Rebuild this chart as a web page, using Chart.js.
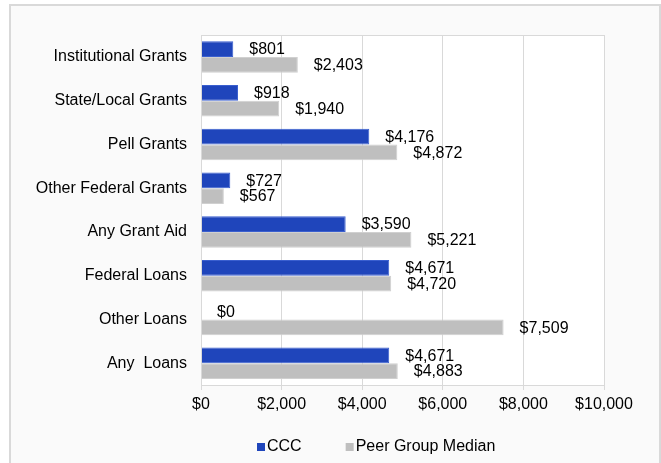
<!DOCTYPE html>
<html>
<head>
<meta charset="utf-8">
<script src="https://cdn.jsdelivr.net/npm/chart.js@4"></script>
<style>
  html, body { margin: 0; padding: 0; background: #ffffff; }
  #wrap { position: relative; width: 661px; height: 463px; overflow: hidden; }
</style>
</head>
<body>
<div id="wrap"><canvas id="myChart" width="661" height="463"></canvas></div>
<script>
const categories = ['Institutional Grants', 'State/Local Grants', 'Pell Grants', 'Other Federal Grants',
    'Any Grant Aid', 'Federal Loans', 'Other Loans', 'Any  Loans'];
const cccValues = [801, 918, 4176, 727, 3590, 4671, 0, 4671];
const peerValues = [2403, 1940, 4872, 567, 5221, 4720, 7509, 4883];
const xTicks = [0, 2000, 4000, 6000, 8000, 10000];

const FONT = '"Liberation Sans", Arial, sans-serif';

function money(v){
    return '$' + Number(v).toLocaleString('en-US');
}

// frame, plot background and border
const framePlugin = {
    id: 'frame',
    beforeDraw(chart){
        const c = chart.ctx;
        const a = chart.chartArea;
        c.save();
        c.fillStyle = '#ffffff';
        c.fillRect(0, 0, chart.width, chart.height);
        c.fillStyle = '#fafafa';
        c.fillRect(10, 5, 650, chart.height);
        c.strokeStyle = '#d9d9d9';
        c.lineWidth = 2;
        c.strokeRect(10, 5, 650, chart.height + 10);
        c.fillStyle = '#ffffff';
        c.fillRect(a.left, a.top, a.right - a.left, a.bottom - a.top);
        c.restore();
    },
    afterDraw(chart){
        const c = chart.ctx;
        const a = chart.chartArea;
        c.save();
        c.strokeStyle = '#d9d9d9';
        c.lineWidth = 1;
        c.strokeRect(a.left + 0.5, a.top + 0.5, a.right - a.left, a.bottom - a.top);

        // legend below the axis
        c.font = '16px ' + FONT;
        c.textBaseline = 'middle';
        c.textAlign = 'left';
        let x = 257;
        const y = 447;
        chart.data.datasets.forEach(ds => {
            c.fillStyle = ds.backgroundColor;
            c.fillRect(x, y - 4, 8, 8);
            c.fillStyle = '#000000';
            c.fillText(ds.label, x + 10, y);
            x += 10 + c.measureText(ds.label).width + 44;
        });
        c.restore();
    }
};

// value labels after the bar end
const labelPlugin = {
    id: 'valueLabels',
    afterDatasetsDraw(chart){
        const c = chart.ctx;
        c.save();
        c.font = '16px ' + FONT;
        c.fillStyle = '#000000';
        c.textBaseline = 'middle';
        c.textAlign = 'left';
        chart.data.datasets.forEach((ds, i) => {
            const meta = chart.getDatasetMeta(i);
            meta.data.forEach((bar, j) => {
                c.fillText(money(ds.data[j]), bar.x + 16, bar.y + 1);
            });
        });
        c.restore();
    }
};

const ctx = document.getElementById('myChart');
const myChart = new Chart(ctx, {
    type: 'bar',
    data: {
        labels: categories,
        datasets: [
            {
                label: 'CCC',
                data: cccValues,
                backgroundColor: '#1f45bb',
                borderColor: '#3a5fcf',
                borderWidth: 1,
                barPercentage: 1.0,
                categoryPercentage: 0.72
            },
            {
                label: 'Peer Group Median',
                data: peerValues,
                backgroundColor: '#bfbfbf',
                borderColor: '#d0d0d0',
                borderWidth: 1,
                barPercentage: 1.0,
                categoryPercentage: 0.72
            }
        ]
    },
    options: {
        indexAxis: 'y',
        responsive: false,
        animation: false,
        layout: { padding: { top: 35, right: 57, bottom: 38, left: 0 } },
        plugins: {
            legend: { display: false },
            tooltip: { enabled: false }
        },
        scales: {
            x: {
                min: 0,
                max: 10000,
                afterBuildTicks(scale){
                    scale.ticks = xTicks.map(v => ({ value: v }));
                },
                afterFit(scale){
                    scale.height = 40;
                },
                grid: {
                    color: '#d9d9d9',
                    tickColor: '#d9d9d9',
                    tickLength: 5
                },
                border: { color: '#d9d9d9' },
                ticks: {
                    callback: v => money(v),
                    font: { size: 16, family: FONT },
                    color: '#000000',
                    padding: 5,
                    maxRotation: 0
                }
            },
            y: {
                afterFit(scale){
                    scale.width = 201;
                },
                grid: { display: false, drawTicks: false },
                border: { color: '#d9d9d9' },
                ticks: {
                    font: { size: 16, family: FONT },
                    color: '#000000',
                    padding: 14
                }
            }
        }
    },
    plugins: [framePlugin, labelPlugin]
});
</script>
</body>
</html>
